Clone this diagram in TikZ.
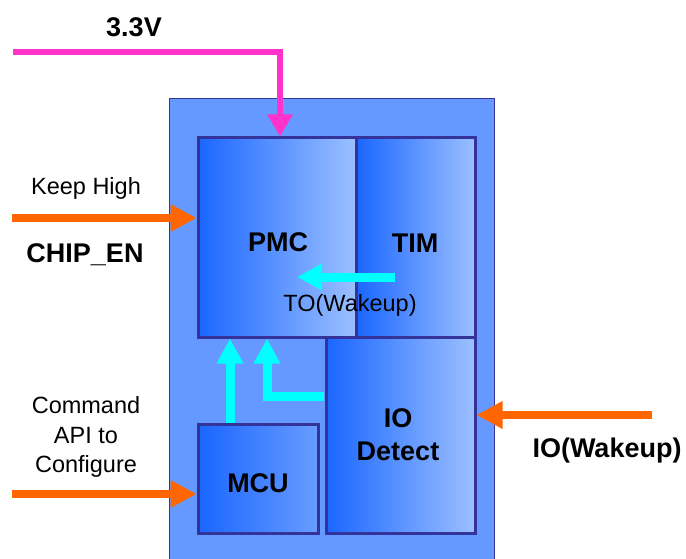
\documentclass[tikz,border=0pt]{standalone}
\usepackage{fontspec}
\setmainfont{Liberation Sans}
\usetikzlibrary{arrows.meta}
\definecolor{chipfill}{HTML}{6699FF}
\definecolor{boxline}{HTML}{333399}
\definecolor{gradL}{HTML}{1A66FF}
\definecolor{gradR}{HTML}{9CC0FF}
\definecolor{pwr}{HTML}{FF33CC}
\definecolor{sig}{HTML}{FF6600}
\definecolor{wake}{HTML}{00FFFF}
\tikzset{
  blk/.style={draw=boxline, line width=3pt, rectangle, inner sep=0pt,
    left color=gradL, right color=gradR},
  bigtxt/.style={font=\fontsize{27}{31}\selectfont\bfseries, inner sep=0pt},
  smalltxt/.style={font=\fontsize{23.5}{29.5}\selectfont, inner sep=0pt, align=center},
  pwrarrow/.style={draw=pwr, line width=6pt, -{Triangle[length=22pt,width=24pt]}},
  sigarrow/.style={draw=sig, line width=8pt, -{Triangle[length=26pt,width=26pt]}},
  wakearrow/.style={draw=wake, line width=9pt, miter limit=10, -{Triangle[length=25pt,width=25pt]}}
}
\begin{document}
\begin{tikzpicture}[x=1pt,y=-1pt]
\useasboundingbox (0,0) rectangle (686,559);
\fill[white] (0,0) rectangle (686,559);
% outer chip
\node[draw=boxline, line width=1pt, fill=chipfill, rectangle, inner sep=0pt,
  minimum width=325pt, minimum height=466pt] (chip) at (331.5,332) {};
% blocks
\node[blk, minimum width=158pt, minimum height=199pt] (pmc) at (277,237.5) {};
\node[blk, minimum width=119pt, minimum height=199pt] (tim) at (415.5,237.5) {};
\node[blk, minimum width=149pt, minimum height=196pt] (iod) at (400.5,435) {};
\node[blk, minimum width=120pt, minimum height=109pt, right color=gradR!60!gradL] (mcu) at (258,478.5) {};
% block labels
\node[bigtxt] (pmclbl) at (278,242) {PMC};
\node[bigtxt] (timlbl) at (415,243) {TIM};
\node[bigtxt, align=center, font=\fontsize{27}{33}\selectfont\bfseries] (iodlbl) at (398,434.5) {IO\\Detect};
\node[bigtxt] (mculbl) at (258,483) {MCU};
% outside labels
\node[bigtxt] (vlbl) at (134,27) {3.3V};
\node[smalltxt] (khlbl) at (86,188) {Keep High};
\node[bigtxt] (chiplbl) at (85,255) {CHIP\_EN};
\node[smalltxt] (cmdlbl) at (86,437) {Command\\API to\\Configure};
\node[bigtxt] (iowlbl) at (607,451) {IO(Wakeup)};
\node[smalltxt] (tolbl) at (350,305) {TO(Wakeup)};
% connectors
\coordinate (v0) at (13,52);
\draw[pwrarrow] (v0) -| ([xshift=3pt]pmc.north);
\coordinate (k0) at (12,218);
\draw[sigarrow] (k0) -- (k0 -| pmc.west);
\coordinate (c0) at (12,494);
\draw[sigarrow] (c0) -- (c0 -| mcu.west);
\coordinate (i0) at (652,415);
\draw[sigarrow] (i0) -- (i0 -| iod.east);
\coordinate (t0) at (395,277);
\coordinate (t1) at (297,277);
\draw[wakearrow] (t0) -- (t1);
\draw[wakearrow] ([xshift=-28pt]mcu.north) -- ([xshift=-28pt]mcu.north |- pmc.south);
\coordinate (d0) at (324,396);
\draw[wakearrow] (d0) -| ([xshift=-10pt]pmc.south);
\end{tikzpicture}
\end{document}
